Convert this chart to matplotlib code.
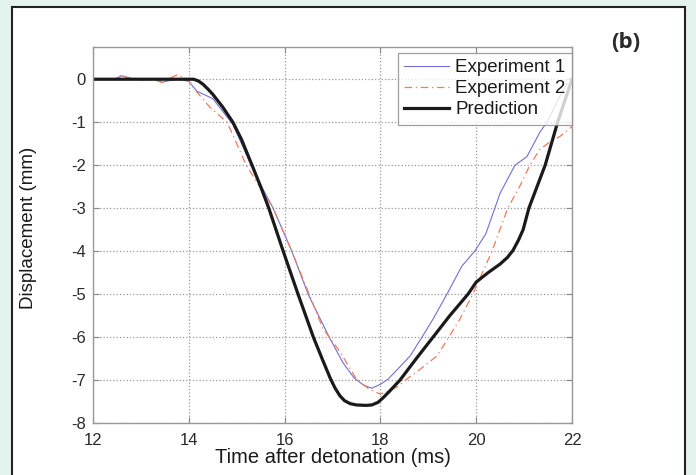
import matplotlib
matplotlib.use('Agg')
import matplotlib.pyplot as plt
from matplotlib.patches import Rectangle

plt.rcParams['font.family'] = ['Liberation Sans', 'DejaVu Sans']
plt.rcParams['axes.unicode_minus'] = False

# Data (time in ms, displacement in mm)
t_exp1 = [12, 12.45, 12.6, 12.8, 13.0, 13.3, 13.45, 13.6, 13.8, 14.0, 14.17, 14.5,
          14.71, 14.92, 15.3, 15.52, 15.76, 16.15, 16.49, 16.93, 17.22, 17.45, 17.65,
          17.82, 18.0, 18.16, 18.4, 18.62, 18.87, 19.1, 19.39, 19.7, 19.97, 20.2,
          20.5, 20.81, 21.06, 21.33, 21.48, 21.7, 21.9]
y_exp1 = [0, 0, 0.08, 0.02, 0, 0, -0.07, -0.03, 0, -0.05, -0.28, -0.45,
          -0.75, -1.05, -2.0, -2.5, -3.0, -4.0, -5.0, -6.0, -6.6, -6.95, -7.12,
          -7.19, -7.1, -6.98, -6.7, -6.44, -6.0, -5.58, -5.0, -4.35, -4.0, -3.6,
          -2.65, -2.0, -1.8, -1.23, -1.0, -0.5, -0.1]

t_exp2 = [12, 12.45, 12.6, 12.75, 13.0, 13.15, 13.3, 13.45, 13.6, 13.75, 13.88, 14.0,
          14.17, 14.44, 14.8, 15.2, 15.76, 16.15, 16.53, 16.8, 17.16, 17.5, 17.75,
          18.0, 18.35, 18.62, 18.76, 19.18, 19.4, 19.66, 19.93, 20.33, 20.66, 20.91,
          21.12, 21.33, 21.55, 21.75, 22.0]
y_exp2 = [0, 0, 0.1, 0.02, -0.02, 0, -0.02, -0.08, 0.02, 0.1, 0.05, -0.05,
          -0.3, -0.65, -1.0, -2.0, -3.0, -4.0, -5.05, -5.8, -6.35, -6.98, -7.2,
          -7.33, -7.16, -6.92, -6.81, -6.44, -6.05, -5.58, -5.0, -4.0, -3.0, -2.49,
          -2.0, -1.63, -1.45, -1.33, -1.1]

t_pred = [12, 14.1, 14.2, 14.3, 14.4, 14.5, 14.71, 14.92, 15.1, 15.32, 15.5, 15.67,
          15.97, 16.28, 16.6, 16.8, 16.95, 17.05, 17.15, 17.25, 17.37, 17.5, 17.7,
          17.82, 17.95, 18.05, 18.2, 18.41, 18.75, 19.1, 19.45, 19.83, 20.0, 20.25,
          20.5, 20.65, 20.77, 20.88, 20.98, 21.1, 21.44, 21.7, 22.0]
y_pred = [0, 0, -0.04, -0.12, -0.23, -0.35, -0.65, -1.0, -1.4, -2.0, -2.5, -3.0,
          -4.0, -5.0, -6.0, -6.55, -6.95, -7.18, -7.36, -7.48, -7.55, -7.58, -7.59,
          -7.58, -7.52, -7.42, -7.25, -7.0, -6.5, -6.0, -5.5, -5.0, -4.72, -4.5,
          -4.3, -4.15, -3.98, -3.75, -3.5, -3.0, -2.0, -1.0, 0.0]

x_ticks = [12, 14, 16, 18, 20, 22]
y_ticks = [0, -1, -2, -3, -4, -5, -6, -7, -8]

fig = plt.figure(figsize=(6.96, 4.75), dpi=100, facecolor='#e5f3ef')
fig.patches.append(Rectangle((12 / 696, -0.05), 673 / 696, 1.05 - 7 / 475,
                             transform=fig.transFigure, facecolor='white',
                             edgecolor='#222222', linewidth=1.5, zorder=-5))

ax = fig.add_axes([93 / 696, 1 - 423 / 475, 479 / 696, 376 / 475])
ax.set_zorder(2)
ax.plot(t_exp1, y_exp1, color='#6f6fd6', linewidth=0.8, label='Experiment 1')
ax.plot(t_exp2, y_exp2, color='#f27a5c', linewidth=0.9, linestyle='-.',
        dashes=(6, 3, 1, 3), label='Experiment 2')
ax.plot(t_pred, y_pred, color='#1a1a1a', linewidth=2.3, label='Prediction',
        solid_joinstyle='round')

ax.set_xlim(12, 22)
ax.set_ylim(-8, 0.75)
ax.set_xticks(x_ticks)
ax.set_yticks(y_ticks)
ax.grid(True, linestyle=':', color='#999999', linewidth=0.9)
ax.tick_params(direction='in', top=True, right=True, length=4, colors='#888888',
               labelcolor='#2a2a2a', labelsize=12)
ax.tick_params(axis='x', pad=7)
ax.tick_params(axis='y', pad=5)
for s in ax.spines.values():
    s.set_color('#999999')
    s.set_linewidth(1.0)

ax.set_xlabel('Time after detonation (ms)', fontsize=14.5, color='#1a1a1a', labelpad=0)
ax.set_ylabel('Displacement (mm)', fontsize=13.5, color='#1a1a1a')
ax.yaxis.set_label_coords(-0.117, 0.52)

leg = ax.legend(loc='upper right', bbox_to_anchor=(1.0, 0.985), borderaxespad=0,
                fontsize=13.5, frameon=True, fancybox=False, handlelength=2.4,
                handletextpad=0.3, labelspacing=0.2, borderpad=0.35)
leg.get_frame().set_edgecolor('#888888')
leg.get_frame().set_linewidth(0.9)
for txt in leg.get_texts():
    txt.set_color('#1a1a1a')

fig.text(626 / 696, 1 - 42 / 475, '(b)', fontsize=16, fontweight='bold',
         family=['Open Sans', 'DejaVu Sans'], color='#2b2b2b', ha='center', va='center',
         zorder=3)

fig.savefig('out.png', dpi=100, facecolor=fig.get_facecolor())
